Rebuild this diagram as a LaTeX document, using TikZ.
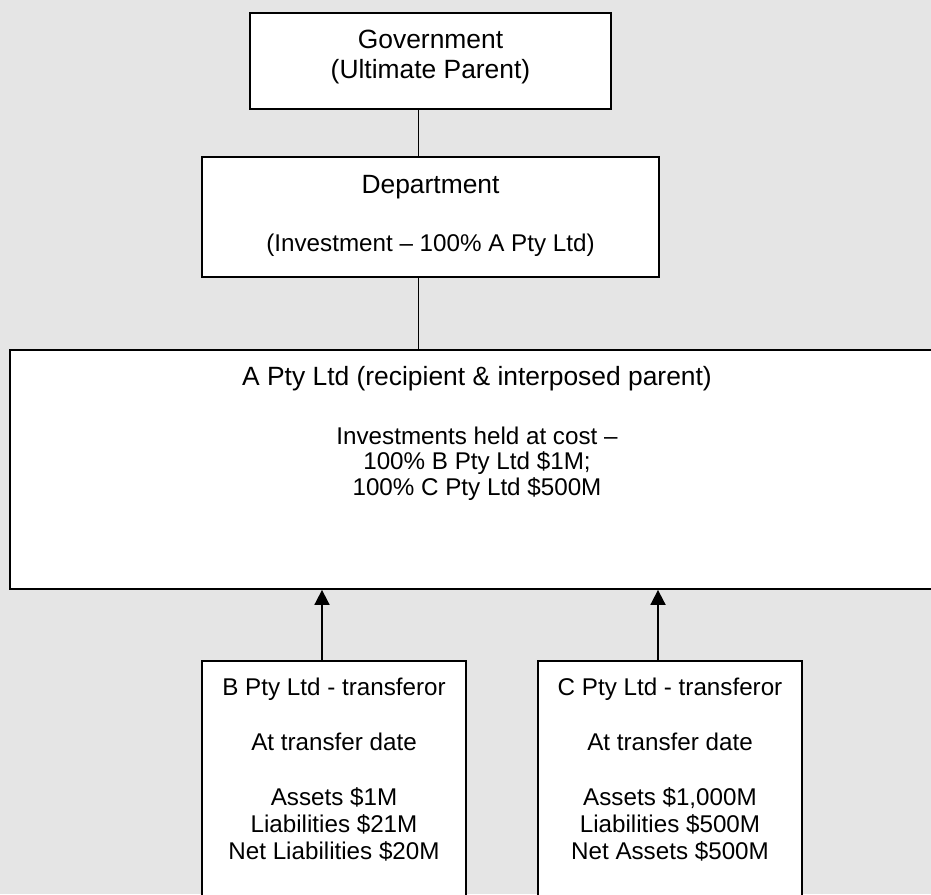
\documentclass[tikz,border=0pt]{standalone}
\usepackage{fontspec}
\setmainfont{Liberation Sans}
\usetikzlibrary{arrows.meta}
\definecolor{bgc}{RGB}{229,229,229}
\newcommand\FontL{\fontsize{26.4}{31}\selectfont}
\newcommand\FontS{\fontsize{24.2}{27}\selectfont}
\begin{document}
\begin{tikzpicture}[x=1pt,y=-1pt,
  entbox/.style={draw=black,fill=white,line width=1.8pt,inner sep=0pt},
  txt/.style={anchor=base,inner sep=0pt,font=\FontS},
  txtL/.style={anchor=base,inner sep=0pt,font=\FontL},
  link/.style={line width=1.8pt},
  arr/.style={line width=1.8pt,-{Triangle[length=15pt,width=15pt]}}]
\useasboundingbox (0,0) rectangle (931,894);
\clip (0,0) rectangle (931,894);
\fill[bgc] (0,0) rectangle (931,894);

% Government
\node[entbox,minimum width=361pt,minimum height=96pt] (gov) at (430.5,61) {};
\node[txtL] (govt1) at (430.5,48) {Government};
\node[txtL] (govt2) at (430.5,78) {(Ultimate Parent)};

% Department
\node[entbox,minimum width=457pt,minimum height=120pt] (dept) at (430.5,217) {};
\node[txtL] (deptt1) at (430.5,193) {Department};
\node[txt] (deptt2) at (430.5,251) {(Investment – 100\% A Pty Ltd)};

% A Pty Ltd
\node[entbox,minimum width=934pt,minimum height=239pt] (apty) at (477,469.5) {};
\node[txtL] (at1) at (477,385) {A Pty Ltd (recipient \& interposed parent)};
\node[txt] (at2) at (477,444) {Investments held at cost –};
\node[txt] (at3) at (477,469.5) {100\% B Pty Ltd \$1M;};
\node[txt] (at4) at (477,495) {100\% C Pty Ltd \$500M};

% B Pty Ltd
\node[entbox,minimum width=264pt,minimum height=260pt] (bpty) at (334,791) {};
\node[txt] (bt1) at (334,695) {B Pty Ltd - transferor};
\node[txt] (bt2) at (334,750) {At transfer date};
\node[txt] (bt3) at (334,805) {Assets \$1M};
\node[txt] (bt4) at (334,832) {Liabilities \$21M};
\node[txt] (bt5) at (334,859) {Net Liabilities \$20M};

% C Pty Ltd
\node[entbox,minimum width=264pt,minimum height=260pt] (cpty) at (670,791) {};
\node[txt] (ct1) at (670,695) {C Pty Ltd - transferor};
\node[txt] (ct2) at (670,750) {At transfer date};
\node[txt] (ct3) at (670,805) {Assets \$1,000M};
\node[txt] (ct4) at (670,832) {Liabilities \$500M};
\node[txt] (ct5) at (670,859) {Net Assets \$500M};

% connectors
\draw[link] ([xshift=-12pt]gov.south) -- ([xshift=-12pt]gov.south |- dept.north);
\draw[link] ([xshift=-12pt]dept.south) -- ([xshift=-12pt]dept.south |- apty.north);
\draw[arr] ([xshift=-12pt]bpty.north) -- ([xshift=-12pt]bpty.north |- apty.south);
\draw[arr] ([xshift=-12pt]cpty.north) -- ([xshift=-12pt]cpty.north |- apty.south);
\end{tikzpicture}
\end{document}
